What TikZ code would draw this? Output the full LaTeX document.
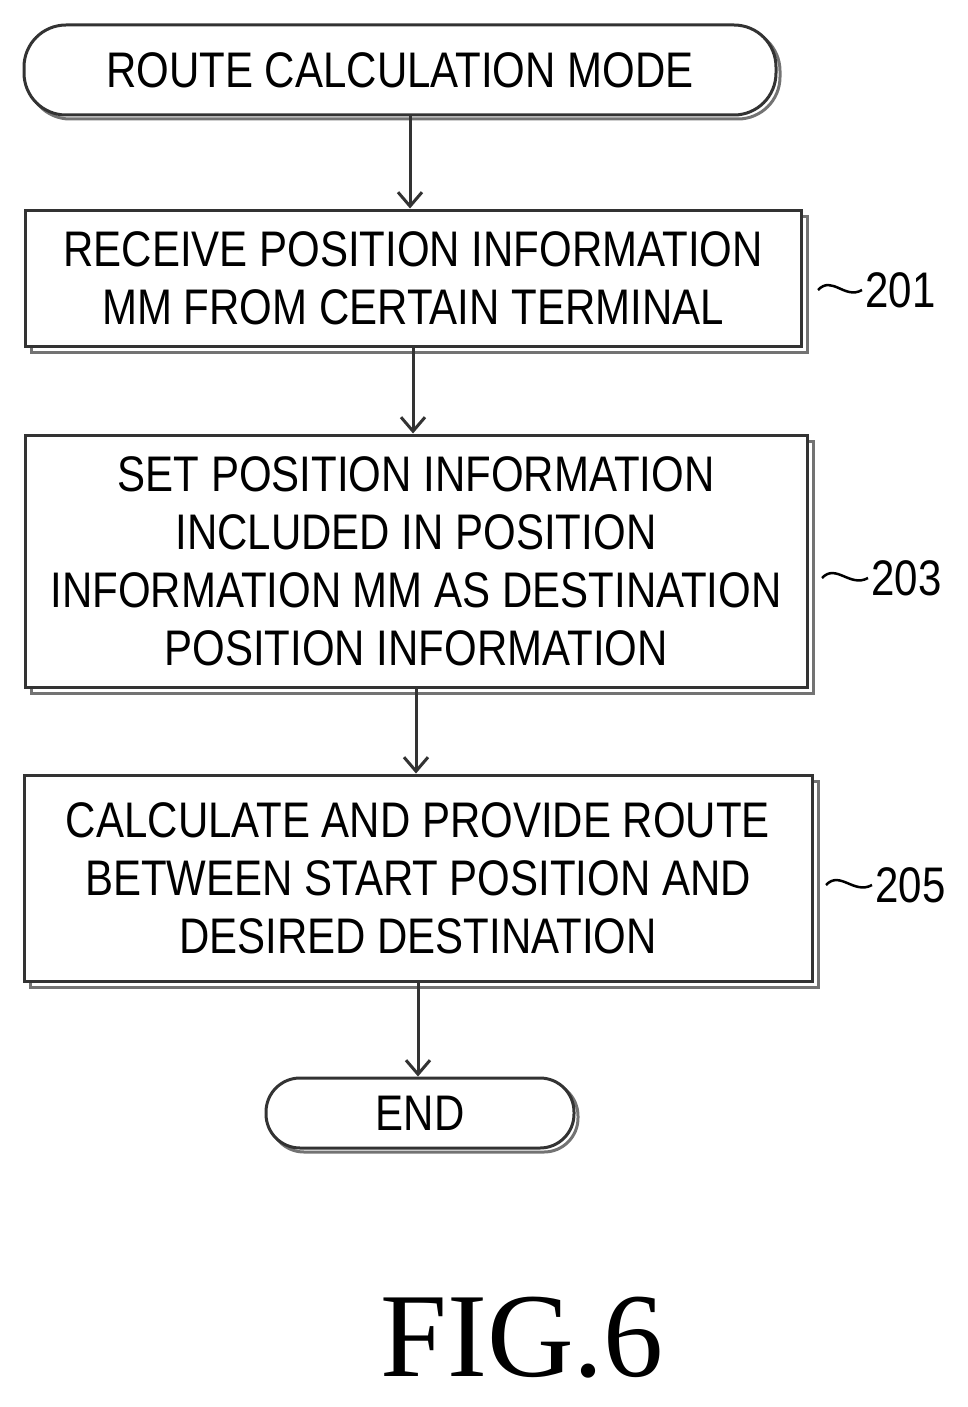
\documentclass[tikz,border=0pt]{standalone}
\usepackage{fontspec}
\setmainfont{Liberation Sans}[FakeStretch=0.84]
\newfontfamily\figfont{Liberation Serif}
\usetikzlibrary{arrows.meta,shadows}
\begin{document}
\begin{tikzpicture}[x=1pt,y=-1pt,
  box/.style={draw=black!80,line width=3pt,fill=white,align=center,font=\fontsize{50}{58}\selectfont,inner sep=0pt,
    copy shadow={shadow xshift=6pt,shadow yshift=-6pt,draw=black!55,line width=3pt,fill=white}},
  term/.style={draw=black!80,line width=3pt,rounded corners=42pt,fill=white,font=\fontsize{50}{58}\selectfont,
    inner sep=0pt,
    copy shadow={shadow xshift=4pt,shadow yshift=-4pt,draw=black!55,line width=3pt,fill=white}},
  arr/.style={draw=black!80,line width=3pt,-{Straight Barb[length=14pt,width=24pt,line width=3pt]}},
  lab/.style={font=\fontsize{50}{58}\selectfont}]
\useasboundingbox (0,0) rectangle (968,1407);
\node[term,minimum width=752pt,minimum height=90pt] (s) at (400,70) {ROUTE CALCULATION MODE};
\node[box,minimum width=776pt,minimum height=136pt] (b1) at (413,278) {RECEIVE POSITION INFORMATION\\MM FROM CERTAIN TERMINAL};
\node[box,minimum width=782pt,minimum height=252pt] (b2) at (416,561) {SET POSITION INFORMATION\\INCLUDED IN POSITION\\INFORMATION MM AS DESTINATION\\POSITION INFORMATION};
\node[box,minimum width=788pt,minimum height=206pt] (b3) at (418,878) {CALCULATE AND PROVIDE ROUTE\\BETWEEN START POSITION AND\\DESIRED DESTINATION};
\node[term,minimum width=308pt,minimum height=70pt,rounded corners=34pt] (e) at (420,1113) {END};
\coordinate (a1) at (410,0);
\coordinate (a2) at (413,0);
\coordinate (a3) at (416,0);
\coordinate (a4) at (418,0);
\draw[arr] (a1 |- s.south) -- (a1 |- b1.north);
\draw[arr] (a2 |- b1.south) -- (a2 |- b2.north);
\draw[arr] (a3 |- b2.south) -- (a3 |- b3.north);
\draw[arr] (a4 |- b3.south) -- (a4 |- e.north);
\node[lab,anchor=west] (l1) at (862,290) {201};
\node[lab,anchor=west] (l2) at (868,578) {203};
\node[lab,anchor=west] (l3) at (872,885) {205};
\draw[line width=2.5pt] (818,290) .. controls (832,275) and (845,300) .. (l1.west);
\draw[line width=2.5pt] (822,578) .. controls (836,563) and (850,588) .. (l2.west);
\draw[line width=2.5pt] (826,885) .. controls (840,870) and (854,895) .. (l3.west);
\node[font=\figfont\fontsize{120}{130}\selectfont] (fig) at (522,1338) {FIG.6};
\end{tikzpicture}
\end{document}
